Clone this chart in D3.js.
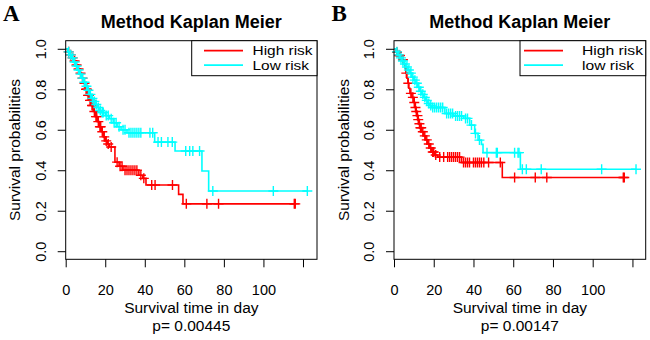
<!DOCTYPE html>
<html><head><meta charset="utf-8">
<script src="https://cdn.jsdelivr.net/npm/d3@7"></script>
<style>html,body{margin:0;padding:0;background:#fff;}svg{display:block;}</style>
</head><body>
<svg id="c" width="650" height="340"></svg>
<script>
// ---------- data ----------
const panelLabels = ["A", "B"];
const titleText = "Method Kaplan Meier";
const xLabel = "Survival time in day";
const yLabel = "Survival probabilities";
const pValues = ["p= 0.00445", "p= 0.00147"];
const legendA = ["High risk", "Low risk"];
const legendB = ["High risk", "low risk"];
const xTicks = [0, 20, 40, 60, 80, 100, 120];
const xTickLabels = ["0", "20", "40", "60", "80", "100", ""];
const yTicks = [0, 0.2, 0.4, 0.6, 0.8, 1.0];
const yTickLabels = ["0.0", "0.2", "0.4", "0.6", "0.8", "1.0"];

// Panel A - high risk
const aHighTime = [1,2,3,4,5,6,7,8,9,10,11,12,13,14,15,16,17,18,19,20,21,22,24.9,27,29,37,39,40.6,57.1,59.3];
const aHighSurv = [0.985,0.97,0.955,0.94,0.92,0.90,0.88,0.855,0.83,0.80,0.77,0.745,0.72,0.69,0.665,0.64,0.615,0.59,0.565,0.545,0.53,0.515,0.44,0.42,0.40,0.375,0.36,0.327,0.281,0.234];
const aHighCensor = [1.5,2.5,3.5,4.5,5.5,6.5,7.5,8.5,9.5,10.3,10.7,11.3,11.7,12.3,12.7,13.3,13.7,14.5,15.3,15.7,16.5,17.3,17.7,18.5,19.5,20.5,21.5,23,26,27.5,28.5,30,31,32,33,34,35,36,38,39.5,43.5,45.2,54,61,71.4,77.3,115.6,116.1];
// Panel A - low risk
const aLowTime = [1,2,3,4,5,6,7,8,9,10,11,12,13,14,15,16,17,18,20,22,24,26,28,31,45,55.3,68.9,72.3];
const aLowSurv = [0.985,0.97,0.955,0.935,0.915,0.895,0.875,0.855,0.835,0.815,0.795,0.775,0.755,0.74,0.725,0.71,0.695,0.685,0.67,0.655,0.635,0.615,0.60,0.585,0.539,0.495,0.396,0.2975];
const aLowCensor = [1.5,2.5,3.5,4.5,5.5,6.5,7.5,8.5,9.5,10.5,11.5,12.5,13.5,14.5,15.5,16.5,17.5,18.5,19,20.5,21.5,23,24.5,25.5,27,29,30,32,33,34,35,36,37,38,42.6,44,46.7,48.4,51.7,53.9,60.7,62.7,64.3,67.7,74.4,105,122.2];

// Panel B - high risk
const bHighTime = [1,2,4,5,5.5,6,6.5,7,7.5,8,9,10,10.5,11,11.5,12,12.5,13,14,15,16,17,18,19,20.5,22,34,54.5];
const bHighSurv = [0.983,0.967,0.946,0.926,0.905,0.88,0.855,0.83,0.805,0.78,0.76,0.735,0.71,0.69,0.67,0.65,0.63,0.61,0.59,0.57,0.55,0.53,0.51,0.49,0.475,0.465,0.438,0.364];
const bHighCensor = [1.5,2.5,3,4.5,6.2,7.2,8.5,9.5,10.2,10.8,11.2,11.8,12.2,12.8,13.3,13.7,14.5,15.5,16.5,17.5,18.5,19.5,20,21,23,25,27,28,29,30,31,32,33,35,36,37,38,40,41,42,43,44,45.2,47.6,53.5,60.7,71.1,76.9,115.4,115.9];
// Panel B - low risk
const bLowTime = [1,2,3,4,5,6,7,8,9,10,11,12,13,14,15,16,17,18,19,25.6,30,35,38.1,40.6,42.3,44,44.8,63.6];
const bLowSurv = [0.985,0.97,0.955,0.94,0.925,0.91,0.895,0.88,0.86,0.845,0.83,0.81,0.79,0.775,0.76,0.745,0.73,0.72,0.71,0.68,0.668,0.656,0.623,0.582,0.549,0.528,0.487,0.405];
const bLowCensor = [1.5,2.5,3.5,4.5,5.5,6.5,7.5,8.5,9.5,10.5,11.5,12.5,13.5,14.5,15.5,16.5,17.5,18.5,19.5,20.5,21.5,22.5,23.5,24.5,26.5,27.5,28.5,29.5,31,32,33,34,36,37,39,41,43,46.8,51.5,52,60.7,62.4,62.9,64.6,66.6,74.1,104.5,121.8];

// ---------- drawing ----------
const svg = d3.select("#c");
const RED = "#FF0000", CYAN = "#00FFFF";
const FONT = "'Liberation Sans', Arial, sans-serif";

function survAt(times, surv, t) {
  let s = 1;
  for (let i = 0; i < times.length; i++) if (times[i] <= t) s = surv[i];
  return s;
}

function drawPanel(cfg) {
  const g = svg.append("g");
  const {left, right, top, bottom} = cfg;
  const allT = [].concat(cfg.series[0].time, cfg.series[0].censor, cfg.series[1].time, cfg.series[1].censor);
  const xMax = d3.max(allT);
  const x = d3.scaleLinear().domain([0, xMax * 1.04]).range([left, right]);
  const y = d3.scaleLinear().domain([-0.04, 1.04]).range([bottom, top]);

  // curves
  cfg.series.forEach(s => {
    const end = Math.max(d3.max(s.time), d3.max(s.censor));
    const pts = [[0, 1]].concat(s.time.map((t, i) => [t, s.surv[i]]));
    pts.push([end, s.surv[s.surv.length - 1]]);
    const line = d3.line().x(d => x(d[0])).y(d => y(d[1])).curve(d3.curveStepAfter);
    g.append("path").attr("d", line(pts)).attr("fill", "none")
      .attr("stroke", s.color).attr("stroke-width", 1.6);
    g.append("g").selectAll("path").data(s.censor).join("path")
      .attr("d", t => {
        const cx = x(t), cy = y(survAt(s.time, s.surv, t));
        return `M${cx - 5},${cy}H${cx + 5}M${cx},${cy - 5}V${cy + 5}`;
      })
      .attr("fill", "none").attr("stroke", s.color).attr("stroke-width", 1.4);
  });

  // box
  g.append("rect").attr("x", left).attr("y", top).attr("width", right - left).attr("height", bottom - top)
    .attr("fill", "none").attr("stroke", "#000").attr("stroke-width", 1);

  // x axis
  const xa = g.append("g").attr("transform", `translate(0,${bottom})`)
    .call(d3.axisBottom(x).tickValues(xTicks).tickSize(8).tickPadding(20)
      .tickFormat((d, i) => xTickLabels[i]));
  xa.select(".domain").remove();
  xa.selectAll("line").attr("stroke", "#000");
  xa.selectAll("text").attr("font-family", FONT).attr("font-size", 14.5).attr("fill", "#000").attr("dy", 0).attr("y", 36);

  // y axis
  const ya = g.append("g").attr("transform", `translate(${left},0)`)
    .call(d3.axisLeft(y).tickValues(yTicks).tickSize(8)
      .tickFormat((d, i) => yTickLabels[i]));
  ya.select(".domain").remove();
  ya.selectAll("line").attr("stroke", "#000");
  ya.selectAll("text").attr("font-family", FONT).attr("font-size", 14.5).attr("fill", "#000")
    .attr("x", 0).attr("dy", 0).attr("text-anchor", "middle")
    .attr("transform", "translate(-20,0) rotate(-90)");

  // labels
  const cx = (left + right) / 2;
  g.append("text").attr("x", cx).attr("y", 28).attr("text-anchor", "middle")
    .attr("font-family", FONT).attr("font-weight", "bold").attr("font-size", 18).text(titleText);
  g.append("text").attr("x", cx).attr("y", 313).attr("text-anchor", "middle")
    .attr("font-family", FONT).attr("font-size", 15.5).text(xLabel);
  g.append("text").attr("x", cx).attr("y", 331).attr("text-anchor", "middle")
    .attr("font-family", FONT).attr("font-size", 15.5).text(cfg.p);
  g.append("text").attr("transform", `translate(${left - 45.5},${(top + bottom) / 2}) rotate(-90)`)
    .attr("text-anchor", "middle").attr("font-family", FONT).attr("font-size", 15.5).text(yLabel);
  g.append("text").attr("x", cfg.labelX).attr("y", 20.5)
    .attr("font-family", "'Liberation Serif', 'Times New Roman', serif").attr("font-weight", "bold")
    .attr("font-size", 23).text(cfg.label);

  // legend
  const lg = cfg.legend;
  g.append("rect").attr("x", lg.x).attr("y", top).attr("width", right - lg.x).attr("height", 35)
    .attr("fill", "#fff").attr("stroke", "#000").attr("stroke-width", 1);
  cfg.series.forEach((s, i) => {
    const ly = top + 10 + i * 14.5;
    g.append("line").attr("x1", lg.x1).attr("x2", lg.x2).attr("y1", ly).attr("y2", ly)
      .attr("stroke", s.color).attr("stroke-width", 1.8);
    g.append("text").attr("x", lg.tx).attr("y", ly + 4.5).attr("font-family", FONT)
      .attr("font-size", 13).attr("textLength", lg.widths[i]).attr("lengthAdjust", "spacingAndGlyphs")
      .text(lg.names[i]);
  });
}

drawPanel({
  left: 65.7, right: 317, top: 40.7, bottom: 259.3, label: panelLabels[0], labelX: 3, p: pValues[0],
  legend: {x: 191.7, x1: 204, x2: 243, tx: 252.5, names: legendA, widths: [60, 56.5]},
  series: [
    {time: aHighTime, surv: aHighSurv, censor: aHighCensor, color: RED},
    {time: aLowTime, surv: aLowSurv, censor: aLowCensor, color: CYAN}
  ]
});
drawPanel({
  left: 394, right: 645.7, top: 40.7, bottom: 259.3, label: panelLabels[1], labelX: 331.5, p: pValues[1],
  legend: {x: 520, x1: 524, x2: 563, tx: 582, names: legendB, widths: [61, 52]},
  series: [
    {time: bHighTime, surv: bHighSurv, censor: bHighCensor, color: RED},
    {time: bLowTime, surv: bLowSurv, censor: bLowCensor, color: CYAN}
  ]
});
</script>
</body></html>
